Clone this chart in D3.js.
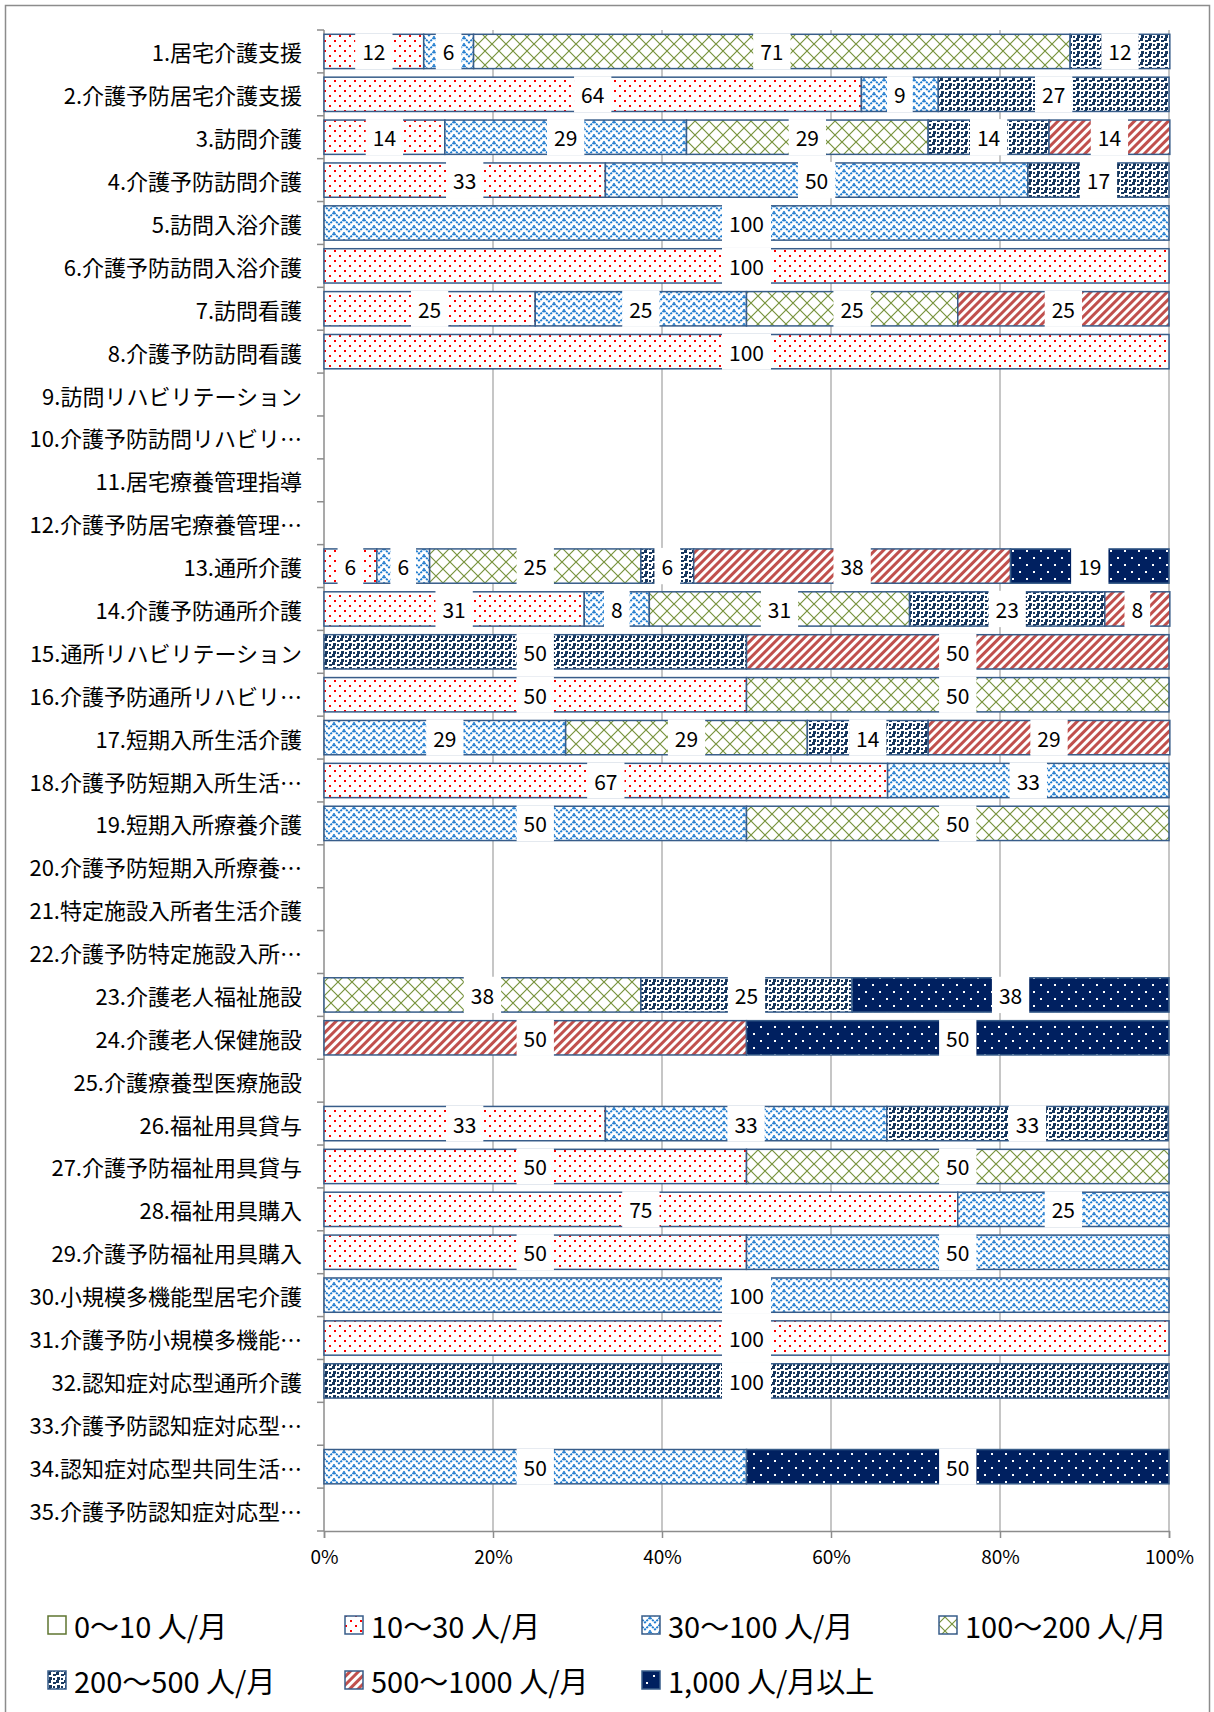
<!DOCTYPE html>
<html>
<head>
<meta charset="utf-8">
<script src="https://cdn.jsdelivr.net/npm/d3@7"></script>
<style>
  body { margin: 0; background: #fff; }
  text { font-family: "Noto Sans CJK JP", "Noto Sans", sans-serif; fill: #000; }
</style>
</head>
<body>
<div id="chart"></div>
<script>
// categories (rows, top to bottom)
var categories = [
  "1.居宅介護支援", "2.介護予防居宅介護支援", "3.訪問介護", "4.介護予防訪問介護",
  "5.訪問入浴介護", "6.介護予防訪問入浴介護", "7.訪問看護", "8.介護予防訪問看護",
  "9.訪問リハビリテーション", "10.介護予防訪問リハビリ…", "11.居宅療養管理指導",
  "12.介護予防居宅療養管理…", "13.通所介護", "14.介護予防通所介護",
  "15.通所リハビリテーション", "16.介護予防通所リハビリ…", "17.短期入所生活介護",
  "18.介護予防短期入所生活…", "19.短期入所療養介護", "20.介護予防短期入所療養…",
  "21.特定施設入所者生活介護", "22.介護予防特定施設入所…", "23.介護老人福祉施設",
  "24.介護老人保健施設", "25.介護療養型医療施設", "26.福祉用具貸与",
  "27.介護予防福祉用具貸与", "28.福祉用具購入", "29.介護予防福祉用具購入",
  "30.小規模多機能型居宅介護", "31.介護予防小規模多機能…", "32.認知症対応型通所介護",
  "33.介護予防認知症対応型…", "34.認知症対応型共同生活…", "35.介護予防認知症対応型…"
];

var seriesNames = ["0～10 人/月", "10～30 人/月", "30～100 人/月", "100～200 人/月",
  "200～500 人/月", "500～1000 人/月", "1,000 人/月以上"];

// percentages per row, one array per series
var s0_10     = [0,0,0,0,0,0,0,0,0,0,0,0,0,0,0,0,0,0,0,0,0,0,0,0,0,0,0,0,0,0,0,0,0,0,0];
var s10_30    = [11.8,63.6,14.3,33.3,0,100,25,100,0,0,0,0,6.25,30.8,0,50,0,66.7,0,0,0,0,0,0,0,33.3,50,75,50,0,100,0,0,0,0];
var s30_100   = [5.9,9.1,28.6,50,100,0,25,0,0,0,0,0,6.25,7.7,0,0,28.6,33.3,50,0,0,0,0,0,0,33.3,0,25,50,100,0,0,0,50,0];
var s100_200  = [70.6,0,28.6,0,0,0,25,0,0,0,0,0,25,30.8,0,50,28.6,0,50,0,0,0,37.5,0,0,0,50,0,0,0,0,0,0,0,0];
var s200_500  = [11.8,27.3,14.3,16.7,0,0,0,0,0,0,0,0,6.25,23.1,50,0,14.3,0,0,0,0,0,25,0,0,33.3,0,0,0,0,0,100,0,0,0];
var s500_1000 = [0,0,14.3,0,0,0,25,0,0,0,0,0,37.5,7.7,50,0,28.6,0,0,0,0,0,0,50,0,0,0,0,0,0,0,0,0,0,0];
var s1000     = [0,0,0,0,0,0,0,0,0,0,0,0,18.75,0,0,0,0,0,0,0,0,0,37.5,50,0,0,0,0,0,0,0,0,0,50,0];

var xTicks = [0, 20, 40, 60, 80, 100];

var allSeries = [s0_10, s10_30, s30_100, s100_200, s200_500, s500_1000, s1000];
var keys = ["k0", "k1", "k2", "k3", "k4", "k5", "k6"];

var svgWidth = 1214;
var svgHeight = 1712;
var margin = { top: 30, left: 324 };
var width = 845;
var height = 1501;

var svg = d3.select("#chart").append("svg")
  .attr("width", svgWidth)
  .attr("height", svgHeight);

// ---------- patterns ----------
var defs = svg.append("defs");

function pat(id, w, h) {
  var p = defs.append("pattern")
    .attr("id", id)
    .attr("patternUnits", "userSpaceOnUse")
    .attr("width", w)
    .attr("height", h);
  p.append("rect").attr("width", w).attr("height", h).attr("fill", "#fff");
  return p;
}

// 0-10: plain white
pat("p0", 8, 8);

// 10-30: sparse red dots
var p1 = pat("p1", 10, 10);
p1.append("rect").attr("x", 0).attr("y", 0).attr("width", 2).attr("height", 2).attr("fill", "#ff0000");
p1.append("rect").attr("x", 5).attr("y", 5).attr("width", 2).attr("height", 2).attr("fill", "#ff0000");

// 30-100: blue zig zag weave
var p2 = pat("p2", 10, 7);
p2.append("path").attr("d", "M0,0.5 L5,5.5 L10,0.5 M-1,6 L0.5,7.5 M9.5,7.5 L11,6")
  .attr("fill", "none").attr("stroke", "#1f7ccf").attr("stroke-width", 1.9)
  .attr("stroke-dasharray", "2.2,0.8");

// 100-200: green lattice
var p3 = pat("p3", 14, 14);
p3.append("path").attr("d", "M0,0 L14,14 M14,0 L0,14")
  .attr("fill", "none").attr("stroke", "#77933c").attr("stroke-width", 1.2);

// 200-500: navy confetti
var p4 = pat("p4", 8, 8);
[[0,0,3,3],[5,2,3,2],[1,5,3,3],[5,6,2,2]].forEach(function(r) {
  p4.append("rect").attr("x", r[0]).attr("y", r[1]).attr("width", r[2]).attr("height", r[3]).attr("fill", "#17375e");
});

// 500-1000: red diagonal stripes
var p5 = defs.append("pattern")
  .attr("id", "p5")
  .attr("patternUnits", "userSpaceOnUse")
  .attr("width", 6).attr("height", 6)
  .attr("patternTransform", "rotate(45)");
p5.append("rect").attr("width", 6).attr("height", 6).attr("fill", "#fff");
p5.append("rect").attr("width", 3).attr("height", 6).attr("fill", "#c0504d");

// 1000+: navy with white dots
var p6 = defs.append("pattern")
  .attr("id", "p6")
  .attr("patternUnits", "userSpaceOnUse")
  .attr("width", 14).attr("height", 14);
p6.append("rect").attr("width", 14).attr("height", 14).attr("fill", "#002060");
p6.append("rect").attr("x", 2).attr("y", 2).attr("width", 2).attr("height", 2).attr("fill", "#fff");
p6.append("rect").attr("x", 9).attr("y", 9).attr("width", 2).attr("height", 2).attr("fill", "#fff");

var fills = ["url(#p0)", "url(#p1)", "url(#p2)", "url(#p3)", "url(#p4)", "url(#p5)", "url(#p6)"];

// outer frame
svg.append("rect")
  .attr("x", 5.5).attr("y", 5.5)
  .attr("width", 1204).attr("height", 1730)
  .attr("fill", "none")
  .attr("stroke", "#8c8c8c")
  .attr("stroke-width", 1.5);

var chartGroup = svg.append("g")
  .attr("transform", `translate(${margin.left}, ${margin.top})`);

// scales
var xScale = d3.scaleLinear().domain([0, 100]).range([0, width]);
var yScale = d3.scaleBand()
  .domain(categories)
  .range([0, height])
  .paddingInner(0.2)
  .paddingOuter(0.1);
var step = yScale.step();

// gridlines
chartGroup.append("g")
  .selectAll("line")
  .data(xTicks.slice(1))
  .enter()
  .append("line")
  .attr("x1", d => xScale(d)).attr("x2", d => xScale(d))
  .attr("y1", 0).attr("y2", height)
  .attr("stroke", "#a0a0a0").attr("stroke-width", 1.2);

// x axis
var bottomAxis = d3.axisBottom(xScale)
  .tickValues(xTicks)
  .tickSize(7)
  .tickPadding(13)
  .tickFormat(d => d + "%");

var xAxis = chartGroup.append("g")
  .attr("transform", `translate(0, ${height})`)
  .call(bottomAxis);
xAxis.select(".domain").attr("stroke", "#8c8c8c").attr("stroke-width", 1.5);
xAxis.selectAll(".tick line").attr("stroke", "#8c8c8c").attr("stroke-width", 1.5);
xAxis.selectAll(".tick text")
  .style("font-size", "19px")
  .style("font-family", "'Noto Sans CJK JP', sans-serif")
  .attr("fill", "#000");

// y axis line and category ticks
chartGroup.append("line")
  .attr("x1", 0).attr("x2", 0)
  .attr("y1", 0).attr("y2", height)
  .attr("stroke", "#8c8c8c").attr("stroke-width", 1.5);

chartGroup.append("g")
  .selectAll("line")
  .data(d3.range(categories.length + 1))
  .enter()
  .append("line")
  .attr("x1", -7).attr("x2", 0)
  .attr("y1", i => i * step).attr("y2", i => i * step)
  .attr("stroke", "#8c8c8c").attr("stroke-width", 1.5);

// category labels
chartGroup.append("g")
  .selectAll("text")
  .data(categories)
  .enter()
  .append("text")
  .attr("x", -22)
  .attr("y", d => yScale(d) + yScale.bandwidth() / 2)
  .attr("text-anchor", "end")
  .attr("dominant-baseline", "central")
  .style("font-size", "22px")
  .text(d => d);

// stacked data
var rows = categories.map(function(c, i) {
  var r = { cat: c };
  keys.forEach(function(k, j) { r[k] = allSeries[j][i]; });
  return r;
});
var stacked = d3.stack().keys(keys)(rows);

var barsGroup = chartGroup.append("g");
stacked.forEach(function(layer, j) {
  barsGroup.selectAll(".bar" + j)
    .data(layer.filter(d => d[1] - d[0] > 0))
    .enter()
    .append("rect")
    .attr("x", d => xScale(d[0]))
    .attr("y", d => yScale(d.data.cat))
    .attr("width", d => xScale(d[1]) - xScale(d[0]))
    .attr("height", yScale.bandwidth())
    .attr("fill", fills[j])
    .attr("stroke", "#385d8a")
    .attr("stroke-width", 1.5);
});

// data labels with white boxes
var labelGroup = chartGroup.append("g");
stacked.forEach(function(layer, j) {
  layer.filter(d => d[1] - d[0] > 0).forEach(function(d) {
    var cx = xScale((d[0] + d[1]) / 2);
    var cy = yScale(d.data.cat) + yScale.bandwidth() / 2;
    var g = labelGroup.append("g");
    var t = g.append("text")
      .attr("x", cx).attr("y", cy)
      .attr("text-anchor", "middle")
      .attr("dominant-baseline", "central")
      .style("font-size", "21px")
      .text(Math.round(d[1] - d[0]));
    var w = t.node().getComputedTextLength() + 14;
    g.insert("rect", "text")
      .attr("x", cx - w / 2)
      .attr("y", cy - yScale.bandwidth() / 2 - 1)
      .attr("width", w)
      .attr("height", yScale.bandwidth() + 2)
      .attr("fill", "#fff");
  });
});

// legend
var legendX = [48, 345, 642, 939];
var legendY = [1625, 1680];
var legend = svg.append("g");
seriesNames.forEach(function(name, j) {
  var lx = legendX[j % 4];
  var ly = legendY[Math.floor(j / 4)];
  legend.append("rect")
    .attr("x", lx).attr("y", ly - 9)
    .attr("width", 18).attr("height", 18)
    .attr("fill", fills[j])
    .attr("stroke", j === 0 ? "#5f7530" : "#385d8a")
    .attr("stroke-width", 1.5);
  legend.append("text")
    .attr("x", lx + 26).attr("y", ly)
    .attr("dominant-baseline", "central")
    .style("font-size", "29px")
    .text(name);
});
</script>
</body>
</html>
